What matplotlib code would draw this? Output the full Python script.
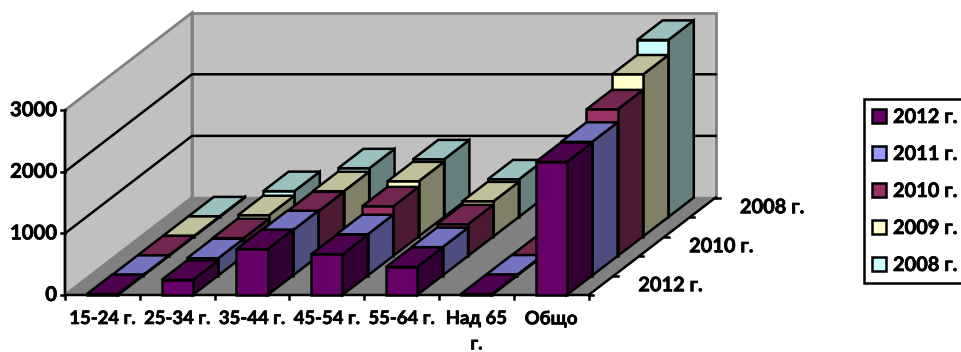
# Import necessary libraries
import matplotlib
matplotlib.use('Agg')
import matplotlib.pyplot as plt
import matplotlib.patheffects as pe
from matplotlib.patches import Polygon, Patch

plt.rcParams['font.family'] = 'Lato'

# Chart values
categories = ['15-24 г.', '25-34 г.', '35-44 г.', '45-54 г.', '55-64 г.', 'Над 65\nг.', 'Общо']
series_names = ['2012 г.', '2011 г.', '2010 г.', '2009 г.', '2008 г.']
depth_labels = ['2012 г.', '2010 г.', '2008 г.']
y_ticks = [0, 1000, 2000, 3000]

values_2012 = [15, 245, 745, 660, 455, 15, 2160]
values_2011 = [10, 280, 735, 670, 460, 15, 2170]
values_2010 = [10, 290, 725, 805, 515, 10, 2380]
values_2009 = [10, 345, 735, 895, 570, 10, 2630]
values_2008 = [10, 420, 790, 935, 610, 10, 2875]
all_values = [values_2012, values_2011, values_2010, values_2009, values_2008]

# front, top and side face colours per series
front_colors = ['#660066', '#9999FF', '#993366', '#FFFFCC', '#CCFFFF']
top_colors = ['#4D004D', '#7373C0', '#732650', '#C0C09A', '#9AC0C0']
side_colors = ['#330033', '#4D4D80', '#4D1A33', '#808066', '#668080']

# Oblique projection of the 3D box, in pixels of the output image
origin_x, origin_y = 65.0, 295.0
cat_step = 74.8
depth_dx, depth_dy = 25.4, -19.5
px_per_unit = 61.6 / 1000
bar_frac = 0.417
n_cat = len(categories)
n_depth = len(series_names)
y_max = y_ticks[-1]
line_w = 1.8

# thickens the labels a little, the reference font is heavier than Lato Bold
heavy = [pe.withStroke(linewidth=0.5, foreground='black')]


def project(cat, depth, value):
    x = origin_x + cat * cat_step + depth * depth_dx
    y = origin_y + depth * depth_dy - value * px_per_unit
    return x, y


fig = plt.figure(figsize=(9.62, 3.52), dpi=100)
ax = fig.add_axes([0, 0, 1, 1])
ax.set_xlim(0, 962)
ax.set_ylim(352, 0)
ax.axis('off')

# Walls and floor
wall_gray = '#C0C0C0'
edge_gray = '#808080'
ax.add_patch(Polygon([project(0, 0, 0), project(0, n_depth, 0), project(0, n_depth, y_max), project(0, 0, y_max)],
                     facecolor=wall_gray, edgecolor=edge_gray, lw=2.0, zorder=1))
ax.add_patch(Polygon([project(0, n_depth, 0), project(n_cat, n_depth, 0), project(n_cat, n_depth, y_max), project(0, n_depth, y_max)],
                     facecolor=wall_gray, edgecolor=edge_gray, lw=2.0, zorder=1))
ax.add_patch(Polygon([project(0, 0, 0), project(n_cat, 0, 0), project(n_cat, n_depth, 0), project(0, n_depth, 0)],
                     facecolor=edge_gray, edgecolor=edge_gray, lw=1.0, zorder=2))

# Gridlines on both walls
for tick in y_ticks[1:-1]:
    points = [project(0, 0, tick), project(0, n_depth, tick), project(n_cat, n_depth, tick)]
    ax.plot([p[0] for p in points], [p[1] for p in points], color='black', lw=line_w, zorder=3)

# Axis lines and ticks
points = [project(0, 0, y_max), project(0, 0, 0), project(n_cat, 0, 0), project(n_cat, n_depth, 0)]
ax.plot([p[0] for p in points], [p[1] for p in points], color='black', lw=line_w, zorder=4)
for tick in y_ticks:
    x, y = project(0, 0, tick)
    ax.plot([x - 4, x], [y, y], color='black', lw=line_w, zorder=4)
    ax.text(x - 8, y, str(tick), ha='right', va='center', fontsize=14.6, fontweight='bold', color='black',
            path_effects=heavy)
for i in range(n_cat + 1):
    x, y = project(i, 0, 0)
    ax.plot([x, x], [y, y + 4], color='black', lw=line_w, zorder=4)
for d in range(n_depth + 1):
    x, y = project(n_cat, d, 0)
    ax.plot([x, x + 4], [y, y], color='black', lw=line_w, zorder=4)

# Category labels below the front edge
for i, name in enumerate(categories):
    x, y = project(i + 0.5, 0, 0)
    ax.text(x, y + 15, name, ha='center', va='top', fontsize=13.3, fontweight='bold', color='black', linespacing=1.6,
            path_effects=heavy)

# Series labels along the right edge
for d, name in enumerate(depth_labels):
    x, y = project(n_cat, d * 2 + 0.5, 0)
    ax.text(x + 37, y, name, ha='left', va='center', fontsize=14.4, fontweight='bold', color='black',
            path_effects=heavy)

# Bars, painted back to front
z = 5
for s in range(n_depth - 1, -1, -1):
    for i in range(n_cat):
        left = i + 0.5 - bar_frac / 2
        right = i + 0.5 + bar_frac / 2
        val = all_values[s][i]
        front = [project(left, s, 0), project(right, s, 0), project(right, s, val), project(left, s, val)]
        side = [project(right, s, 0), project(right, s + 1, 0), project(right, s + 1, val), project(right, s, val)]
        top = [project(left, s, val), project(right, s, val), project(right, s + 1, val), project(left, s + 1, val)]
        for pts, color in [(side, side_colors[s]), (top, top_colors[s]), (front, front_colors[s])]:
            ax.add_patch(Polygon(pts, facecolor=color, edgecolor='black', lw=line_w, joinstyle='miter', zorder=z))
            z += 1

# Legend
handles = [Patch(facecolor=c, edgecolor='black', lw=line_w) for c in front_colors]
legend = ax.legend(handles, series_names, loc='upper left', bbox_to_anchor=(864, 99), bbox_transform=ax.transData,
                   borderaxespad=0, frameon=True, fancybox=False, framealpha=1, edgecolor='black',
                   prop={'family': 'Lato', 'weight': 'bold', 'size': 14.4}, handlelength=0.7, handleheight=0.7,
                   handletextpad=0.35, labelspacing=0.85, borderpad=0.4)
legend.get_frame().set_linewidth(line_w)
legend.set_zorder(1000)
for label in legend.get_texts():
    label.set_path_effects(heavy)

fig.savefig('out.png', dpi=100)
